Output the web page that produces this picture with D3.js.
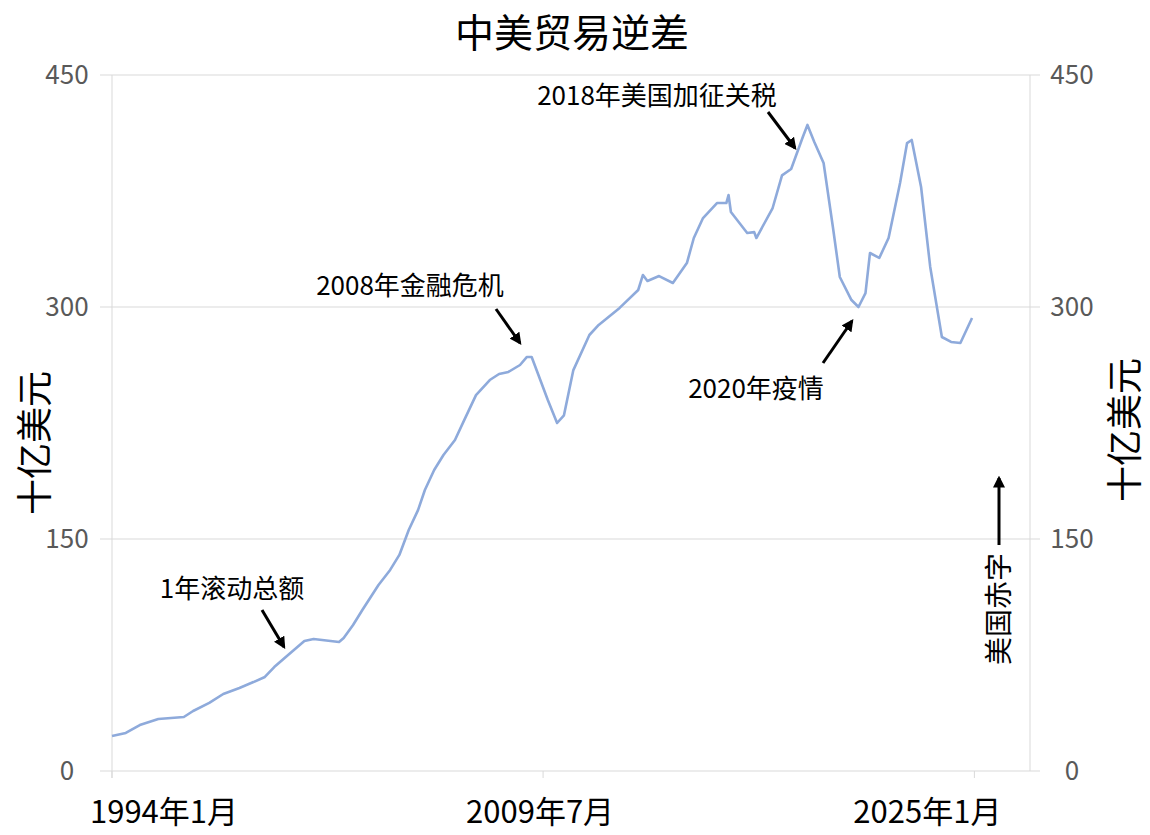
<!DOCTYPE html>
<html>
<head>
<meta charset="utf-8">
<script src="https://cdn.jsdelivr.net/npm/d3@7"></script>
<style>
  body { margin: 0; background: #fff; }
  text { font-family: "Noto Sans CJK SC", "Noto Sans", sans-serif; }
</style>
</head>
<body>
<svg id="chart"></svg>
<script>
// 月份 (YYYY-MM) 与 1年滚动逆差 (十亿美元)
var months = [
  "1994-01","1994-07","1995-01","1995-09","1996-08","1996-12","1997-07","1998-01",
  "1998-08","1999-02","1999-07","1999-11","2000-05","2000-12","2001-04","2002-03",
  "2002-05","2002-09","2003-01","2003-08","2004-01","2004-05","2004-09","2005-01",
  "2005-04","2005-08","2005-12","2006-05","2006-09","2007-02","2007-08","2007-12",
  "2008-04","2008-09","2008-12","2009-02","2009-05","2009-09","2010-01","2010-04",
  "2010-08","2011-03","2011-07","2012-04","2012-12","2013-02","2013-04","2013-09",
  "2014-03","2014-09","2014-12","2015-04","2015-10","2016-02","2016-03","2016-04",
  "2016-11","2017-02","2017-03","2017-10","2018-02","2018-06","2018-11","2019-01",
  "2019-04","2019-08","2019-12","2020-03","2020-08","2020-11","2021-02","2021-04",
  "2021-08","2021-12","2022-05","2022-08","2022-10","2023-02","2023-06","2023-11",
  "2024-03","2024-07","2024-12"
];
var deficit = [
  22.6, 24.6, 29.7, 33.6, 34.9, 38.8, 44.0, 49.8,
  53.7, 57.5, 60.8, 67.2, 75.0, 84.0, 85.3, 83.4,
  86.0, 94.4, 104.1, 120.3, 130.0, 139.7, 155.8, 168.7,
  181.7, 194.6, 204.3, 214.0, 227.0, 243.0, 252.8, 256.7,
  258.0, 262.5, 267.7, 267.7, 256.0, 239.9, 225.0, 230.0,
  259.0, 281.9, 288.4, 299.4, 311.0, 320.7, 316.8, 320.0,
  315.5, 328.4, 344.6, 357.5, 367.2, 367.2, 372.4, 361.4,
  347.8, 348.4, 344.6, 364.0, 385.1, 389.2, 409.9, 417.7,
  406.7, 393.1, 351.7, 319.4, 304.5, 300.0, 309.0, 334.9,
  331.7, 344.6, 380.2, 406.0, 408.0, 377.6, 325.9, 280.6,
  277.4, 276.7, 292.9
];
var yTicks = [0, 150, 300, 450];
var xTicks = ["1994-01", "2009-07", "2025-01"];
var xTickLabels = ["1994年1月", "2009年7月", "2025年1月"];

var width = 1150, height = 835;
var margin = {top: 75, right: 120, bottom: 64, left: 112};

var parseMonth = d3.timeParse("%Y-%m");
var data = months.map(function(m, i) { return {date: parseMonth(m), value: deficit[i]}; });

var svg = d3.select("#chart")
    .attr("width", width)
    .attr("height", height);

var x = d3.scaleTime()
    .domain([parseMonth("1994-01"), parseMonth("2027-01")])
    .range([margin.left, width - margin.right]);

var y = d3.scaleLinear()
    .domain([0, 450])
    .range([height - margin.bottom, margin.top]);

var gridColor = "#d9d9d9";

// 网格线
svg.append("g")
    .selectAll("line")
    .data(yTicks)
    .enter()
    .append("line")
    .attr("x1", margin.left - 12)
    .attr("x2", width - margin.right + 10)
    .attr("y1", function(d) { return y(d); })
    .attr("y2", function(d) { return y(d); })
    .attr("stroke", gridColor)
    .attr("stroke-width", 1);

// 左右纵轴线
svg.append("line")
    .attr("x1", margin.left).attr("x2", margin.left)
    .attr("y1", margin.top).attr("y2", y(0) + 7)
    .attr("stroke", gridColor);
svg.append("line")
    .attr("x1", width - margin.right).attr("x2", width - margin.right)
    .attr("y1", margin.top).attr("y2", y(0))
    .attr("stroke", gridColor);

// 横轴刻度
svg.append("g")
    .selectAll("line")
    .data(xTicks)
    .enter()
    .append("line")
    .attr("x1", function(d) { return x(parseMonth(d)); })
    .attr("x2", function(d) { return x(parseMonth(d)); })
    .attr("y1", y(0))
    .attr("y2", y(0) + 7)
    .attr("stroke", gridColor);

// 首尾标签向内收 (同 Excel)
var tickAnchor = ["start", "middle", "end"];
var tickShift = [-22, -3, 27];
svg.append("g")
    .selectAll("text")
    .data(xTicks)
    .enter()
    .append("text")
    .attr("x", function(d, i) { return x(parseMonth(d)) + tickShift[i]; })
    .attr("y", y(0) + 52)
    .attr("text-anchor", function(d, i) { return tickAnchor[i]; })
    .attr("font-size", 31)
    .attr("fill", "#000")
    .text(function(d, i) { return xTickLabels[i]; });

// 纵轴刻度标签
svg.append("g")
    .selectAll("text")
    .data(yTicks)
    .enter()
    .append("text")
    .attr("x", 67)
    .attr("y", function(d) { return y(d) + 9; })
    .attr("text-anchor", "middle")
    .attr("font-size", 26)
    .attr("fill", "#595959")
    .text(function(d) { return d; });

svg.append("g")
    .selectAll("text")
    .data(yTicks)
    .enter()
    .append("text")
    .attr("x", 1072)
    .attr("y", function(d) { return y(d) + 9; })
    .attr("text-anchor", "middle")
    .attr("font-size", 26)
    .attr("fill", "#595959")
    .text(function(d) { return d; });

// 轴标题
svg.append("text")
    .attr("transform", "translate(48,443) rotate(-90)")
    .attr("text-anchor", "middle")
    .attr("font-size", 36)
    .text("十亿美元");
svg.append("text")
    .attr("transform", "translate(1138,430) rotate(-90)")
    .attr("text-anchor", "middle")
    .attr("font-size", 36)
    .text("十亿美元");

// 标题
svg.append("text")
    .attr("x", 572)
    .attr("y", 47)
    .attr("text-anchor", "middle")
    .attr("font-size", 39)
    .text("中美贸易逆差");

// 折线
var line = d3.line()
    .x(function(d) { return x(d.date); })
    .y(function(d) { return y(d.value); });

svg.append("path")
    .datum(data)
    .attr("fill", "none")
    .attr("stroke", "#8eaadb")
    .attr("stroke-width", 2.6)
    .attr("stroke-linejoin", "round")
    .attr("d", line);

// 箭头
svg.append("defs").append("marker")
    .attr("id", "arrow")
    .attr("viewBox", "0 -5 10 10")
    .attr("refX", 8)
    .attr("refY", 0)
    .attr("markerWidth", 4)
    .attr("markerHeight", 4)
    .attr("orient", "auto")
    .append("path")
    .attr("d", "M0,-5L10,0L0,5Z")
    .attr("fill", "#000");

var notes = [
  {text: "1年滚动总额", tx: 232, ty: 598, x1: 262, y1: 610, x2: 284, y2: 647},
  {text: "2008年金融危机", tx: 410, ty: 295, x1: 496, y1: 309, x2: 520, y2: 343},
  {text: "2018年美国加征关税", tx: 657, ty: 105, x1: 768, y1: 112, x2: 795, y2: 148},
  {text: "2020年疫情", tx: 756, ty: 398, x1: 823, y1: 363, x2: 852, y2: 321}
];

svg.append("g")
    .selectAll("text")
    .data(notes)
    .enter()
    .append("text")
    .attr("x", function(d) { return d.tx; })
    .attr("y", function(d) { return d.ty; })
    .attr("text-anchor", "middle")
    .attr("font-size", 26)
    .text(function(d) { return d.text; });

svg.append("g")
    .selectAll("line")
    .data(notes)
    .enter()
    .append("line")
    .attr("x1", function(d) { return d.x1; })
    .attr("y1", function(d) { return d.y1; })
    .attr("x2", function(d) { return d.x2; })
    .attr("y2", function(d) { return d.y2; })
    .attr("stroke", "#000")
    .attr("stroke-width", 3)
    .attr("marker-end", "url(#arrow)");

// 美国赤字
svg.append("text")
    .attr("transform", "translate(1009,609) rotate(-90)")
    .attr("text-anchor", "middle")
    .attr("font-size", 28)
    .text("美国赤字");
svg.append("line")
    .attr("x1", 999).attr("y1", 545)
    .attr("x2", 999).attr("y2", 478)
    .attr("stroke", "#000")
    .attr("stroke-width", 3)
    .attr("marker-end", "url(#arrow)");
</script>
</body>
</html>
